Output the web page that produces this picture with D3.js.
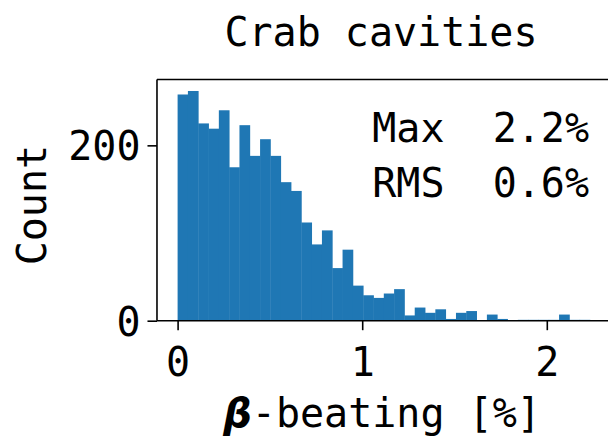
<!DOCTYPE html>
<html>
<head>
<meta charset="utf-8">
<script src="https://cdn.jsdelivr.net/npm/d3@7"></script>
<style>
  html, body { margin: 0; padding: 0; background: #fff; }
  svg text { font-family: "DejaVu Sans Mono", monospace; fill: #000; }
</style>
</head>
<body>
<svg id="chart" width="608" height="442"></svg>
<script>
// ---- data ----
const title = "Crab cavities";
const yLabel = "Count";
const binMin = 0;
const binMax = 2.234;
const counts = [258, 262, 225, 219, 240, 175, 223, 188, 207, 188,
                158, 148, 112, 87, 103, 60, 81, 40, 29, 26,
                31, 36, 6, 15, 9, 13, 2, 9, 11, 0,
                7, 2, 0, 1, 1, 1, 1, 7, 1, 1];
const xTicks = [0, 1, 2];
const yTicks = [0, 200];
const statLabels = ["Max", "RMS"];
const statValues = ["2.2%", "0.6%"];

// ---- layout ----
const svg = d3.select("#chart");
const fontSize = 40;
const nBins = counts.length;
const binW = (binMax - binMin) / nBins;
const bins = counts.map((c, i) => ({x0: binMin + i * binW, x1: binMin + (i + 1) * binW, c}));
const span = binMax - binMin;
const xDom = [binMin - 0.05 * span, binMax + 0.07 * span];
const pxPerUnit = 184.6;
const x0px = 177.6;
const x = d3.scaleLinear().domain(xDom)
  .range([x0px + xDom[0] * pxPerUnit, x0px + xDom[1] * pxPerUnit]);
const yMax = d3.max(counts) * 1.05;
const plotTop = 79.5, plotBottom = 320.7;
const y = d3.scaleLinear().domain([0, yMax]).range([plotBottom, plotTop]);

const plotLeft = x.range()[0], plotRight = x.range()[1];

// bars
svg.append("g").selectAll("rect").data(bins).join("rect")
  .attr("x", d => x(d.x0))
  .attr("width", d => x(d.x1) - x(d.x0) + 0.4)
  .attr("y", d => y(d.c))
  .attr("height", d => y(0) - y(d.c))
  .attr("fill", "#1f77b4");

// axes
const tickLen = 9.5;
const xAxis = d3.axisBottom(x).tickValues(xTicks).tickFormat(d3.format("d"))
  .tickSizeInner(tickLen).tickSizeOuter(0).tickPadding(8);
const gx = svg.append("g").attr("transform", `translate(0,${plotBottom})`).call(xAxis);
const yAxis = d3.axisLeft(y).tickValues(yTicks).tickFormat(d3.format("d"))
  .tickSizeInner(tickLen).tickSizeOuter(0).tickPadding(7);
const gy = svg.append("g").attr("transform", `translate(${plotLeft},0)`).call(yAxis);
[gx, gy].forEach(g => {
  g.select(".domain").remove();
  g.selectAll(".tick line").attr("stroke", "#000").attr("stroke-width", 1.6);
  g.selectAll(".tick text").attr("font-family", "DejaVu Sans Mono")
    .attr("font-size", fontSize).attr("fill", "#000");
});
gx.selectAll(".tick text").attr("dy", null).attr("y", 376 - plotBottom);
gy.selectAll(".tick text").attr("dy", "0.36em");

// spines (right spine falls outside the picture)
const sp = svg.append("g").attr("stroke", "#000").attr("stroke-width", 1.6).attr("fill", "none");
sp.append("line").attr("x1", plotLeft).attr("x2", plotLeft).attr("y1", plotTop).attr("y2", plotBottom);
sp.append("line").attr("x1", plotLeft).attr("x2", plotRight).attr("y1", plotBottom).attr("y2", plotBottom);
sp.append("line").attr("x1", plotLeft).attr("x2", plotRight).attr("y1", plotTop).attr("y2", plotTop);
sp.append("line").attr("x1", plotRight).attr("x2", plotRight).attr("y1", plotTop).attr("y2", plotBottom);

// title
svg.append("text").attr("x", 381).attr("y", 46)
  .attr("text-anchor", "middle").attr("font-size", fontSize).text(title);

// y label
svg.append("text").attr("transform", `translate(46,${(plotTop + plotBottom) / 2 + 5}) rotate(-90)`)
  .attr("text-anchor", "middle").attr("font-size", fontSize).text(yLabel);

// x label
const xl = svg.append("text").attr("x", 382).attr("y", 427)
  .attr("text-anchor", "middle").attr("font-size", fontSize);
xl.append("tspan").attr("font-family", "DejaVu Sans").attr("font-style", "italic")
  .attr("font-weight", "bold").text("β");
xl.append("tspan").text("-beating [%]");

// stats annotation
statLabels.forEach((lab, i) => {
  svg.append("text").attr("x", 589).attr("y", 141.7 + i * 55)
    .attr("text-anchor", "end").attr("font-size", fontSize)
    .attr("xml:space", "preserve").style("white-space", "pre")
    .text(lab + "  " + statValues[i]);
});
</script>
</body>
</html>
